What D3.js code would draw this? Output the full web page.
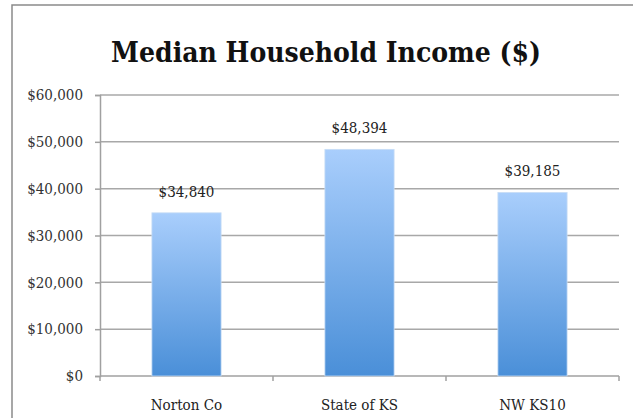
<!DOCTYPE html>
<html>
<head>
<meta charset="utf-8">
<script src="https://cdn.jsdelivr.net/npm/d3@7"></script>
<style>
  body { margin: 0; background: #fff; }
  svg text { font-family: "DejaVu Serif Condensed", "DejaVu Serif", serif; font-stretch: condensed; }
</style>
</head>
<body>
<div id="chart-area"></div>
<script>
// data
let categories = ["Norton Co", "State of KS", "NW KS10"];
let incomes = [34840, 48394, 39185];
let yTicks = [0, 10000, 20000, 30000, 40000, 50000, 60000];

let W = 633, H = 418;
let margin = {top: 95, right: 14, bottom: 42, left: 100};
let width = W - margin.left - margin.right,
	height = H - margin.top - margin.bottom;

let root = d3.select("#chart-area")
	.append("svg")
	.attr("width", W)
	.attr("height", H);

// gradient for the bars
let grad = root.append("defs").append("linearGradient")
	.attr("id", "barGrad")
	.attr("x1", 0).attr("y1", 0).attr("x2", 0).attr("y2", 1);
grad.append("stop").attr("offset", "0%").attr("stop-color", "#a9cefc");
grad.append("stop").attr("offset", "100%").attr("stop-color", "#4a8fd8");

// frame edges (left and top only, cropped screenshot)
root.append("path")
	.attr("d", "M12," + H + " V5 H" + W)
	.attr("fill", "none")
	.attr("stroke", "#8a8a8a")
	.attr("stroke-width", 1.5);

// title
root.append("text")
	.attr("x", 326)
	.attr("y", 62)
	.attr("text-anchor", "middle")
	.style("font-size", "28px")
	.style("font-weight", "bold")
	.style("fill", "#111")
	.text("Median Household Income ($)");

let svg = root.append("g")
	.attr("transform", "translate(" + margin.left + "," + margin.top + ")");

// scales
let x = d3.scaleBand()
	.domain(categories)
	.range([0, width])
	.padding(0);

let y = d3.scaleLinear()
	.domain([0, 60000])
	.range([height, 0]);

// gridlines
svg.selectAll(".grid")
	.data(yTicks.filter(d => d > 0))
	.enter().append("line")
	.attr("class", "grid")
	.attr("x1", 0)
	.attr("x2", width)
	.attr("y1", d => y(d))
	.attr("y2", d => y(d))
	.attr("stroke", "#a8a8a8")
	.attr("stroke-width", 1.5);

// y axis
let yAxis = svg.append("g")
	.attr("class", "yaxis")
	.call(d3.axisLeft(y)
		.tickValues(yTicks)
		.tickSize(5)
		.tickPadding(12)
		.tickFormat(d => "$" + d3.format(",")(d)));

// x axis (ticks at band boundaries)
let xAxis = svg.append("g")
	.attr("class", "xaxis")
	.attr("transform", "translate(0," + height + ")");

xAxis.append("line")
	.attr("x1", 0).attr("x2", width)
	.attr("stroke", "#a0a0a0").attr("stroke-width", 1.5);

let bounds = categories.map(c => x(c)).concat([width]);
xAxis.selectAll(".xtick")
	.data(bounds)
	.enter().append("line")
	.attr("class", "xtick")
	.attr("x1", d => d).attr("x2", d => d)
	.attr("y1", 0).attr("y2", 5)
	.attr("stroke", "#a0a0a0").attr("stroke-width", 1.5);

xAxis.selectAll(".xlabel")
	.data(categories)
	.enter().append("text")
	.attr("class", "xlabel")
	.attr("x", d => x(d) + x.bandwidth() / 2)
	.attr("y", 34)
	.attr("text-anchor", "middle")
	.style("font-size", "15px")
	.style("fill", "#222")
	.text(d => d);

yAxis.select(".domain").attr("stroke", "#a0a0a0").attr("stroke-width", 1.5);
yAxis.selectAll(".tick line").attr("stroke", "#a0a0a0").attr("stroke-width", 1.5);
yAxis.selectAll(".tick text")
	.style("font-size", "15px")
	.style("fill", "#333")
	.style("font-family", "'DejaVu Serif Condensed', 'DejaVu Serif', serif");

// bars
let barW = x.bandwidth() * 0.4;
let rows = categories.map((c, i) => ({company: c, value: incomes[i]}));

svg.selectAll(".mybar")
	.data(rows)
	.enter().append("rect")
	.attr("class", "mybar")
	.attr("x", d => x(d.company) + (x.bandwidth() - barW) / 2)
	.attr("y", d => y(d.value))
	.attr("width", barW)
	.attr("height", d => height - y(d.value))
	.attr("fill", "url(#barGrad)")
	.attr("stroke", "#c8ddf5")
	.attr("stroke-width", 0.8);

// value labels
svg.selectAll(".vlabel")
	.data(rows)
	.enter().append("text")
	.attr("class", "vlabel")
	.attr("x", d => x(d.company) + x.bandwidth() / 2)
	.attr("y", d => y(d.value) - 16)
	.attr("text-anchor", "middle")
	.style("font-size", "15px")
	.style("fill", "#222")
	.text(d => "$" + d3.format(",")(d.value));
</script>
</body>
</html>
